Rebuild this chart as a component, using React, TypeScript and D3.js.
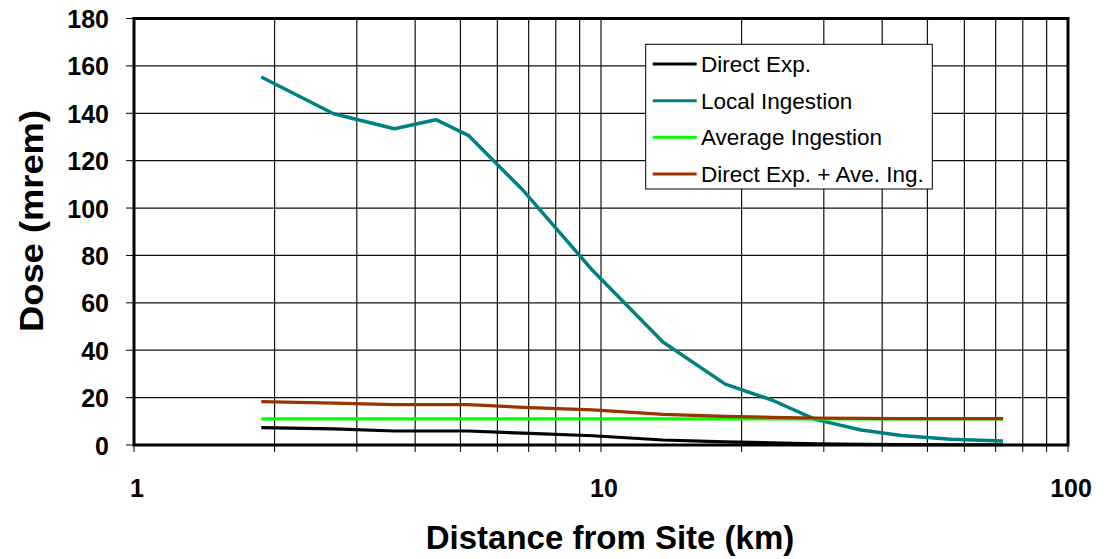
import React from "react";
import * as d3 from "d3";

const distances = [1.873, 2.676, 3.612, 4.43, 5.198, 6.81, 9.61, 13.57, 18.45, 23.23, 28.74, 36.07, 43.9, 56.1, 72.6];
const directExp = [7.3, 6.8, 5.9, 5.9, 5.9, 5.0, 3.9, 2.1, 1.3, 0.9, 0.5, 0.3, 0.2, 0.1, 0.1];
const localIngestion = [155.3, 139.8, 133.5, 137.3, 130.7, 107.5, 73.5, 43.5, 25.7, 19.0, 10.8, 6.3, 4.0, 2.4, 1.7];
const averageIngestion = [11.0, 11.0, 11.0, 11.0, 11.0, 11.0, 11.0, 11.0, 11.0, 11.0, 11.0, 11.0, 11.0, 11.0, 11.0];
const directPlusAve = [18.3, 17.7, 17.0, 17.0, 17.0, 15.9, 14.8, 12.9, 12.1, 11.7, 11.4, 11.2, 11.1, 11.1, 11.1];

const seriesNames = ["Direct Exp.", "Local Ingestion", "Average Ingestion", "Direct Exp. + Ave. Ing."];
const seriesColors = ["#000000", "#008080", "#00FF00", "#993300"];
const seriesValues = [directExp, localIngestion, averageIngestion, directPlusAve];

const yTicks = [0, 20, 40, 60, 80, 100, 120, 140, 160, 180];
const xLabelTicks = [1, 10, 100];

const W = 1108;
const H = 559;
const L = 134;
const R = 1068;
const T = 18.5;
const B = 445;
const FONT = "'Liberation Sans', Arial, Helvetica, sans-serif";

export default function App() {
  const x = d3.scaleLog().domain([1, 100]).range([L, R]);
  const y = d3.scaleLinear().domain([0, 180]).range([B, T]);

  const minorX: number[] = [];
  for (const dec of [1, 10]) {
    for (let k = 2; k <= 9; k++) minorX.push(dec * k);
  }
  const allXTicks = [1, ...minorX, 10, 100].sort((a, b) => a - b);

  const line = d3
    .line<[number, number]>()
    .x((d) => x(d[0]))
    .y((d) => y(d[1]));

  const legX = 645.7;
  const legY = 44.3;
  const legW = 286.6;
  const legH = 144.7;
  const rowYs = [64, 100.7, 137.3, 174];

  return (
    <svg
      width={W}
      height={H}
      style={{ position: "absolute", left: 0, top: 0, background: "#fff" }}
      fontFamily={FONT}
    >
      <rect x={0} y={0} width={W} height={H} fill="#fff" />
      {yTicks.map((t) => (
        <line key={"gy" + t} x1={L} x2={R} y1={y(t)} y2={y(t)} stroke="#111" strokeWidth={1.2} />
      ))}
      {minorX.concat([10]).map((t) => (
        <line key={"gx" + t} x1={x(t)} x2={x(t)} y1={T} y2={B} stroke="#111" strokeWidth={1.2} />
      ))}
      {yTicks.map((t) => (
        <line key={"ty" + t} x1={L - 8} x2={L} y1={y(t)} y2={y(t)} stroke="#000" strokeWidth={1} />
      ))}
      {allXTicks.map((t) => (
        <line key={"tx" + t} x1={x(t)} x2={x(t)} y1={B} y2={B + 7} stroke="#000" strokeWidth={1} />
      ))}
      {seriesValues.map((vals, i) => (
        <path
          key={"s" + i}
          d={line(distances.map((dd, j) => [dd, vals[j]] as [number, number])) || ""}
          fill="none"
          stroke={seriesColors[i]}
          strokeWidth={i === 1 ? 3.5 : 3.2}
          strokeLinejoin="round"
        />
      ))}
      <rect x={L} y={T} width={R - L} height={B - T} fill="none" stroke="#000" strokeWidth={3} />
      {yTicks.map((t) => (
        <text key={"ly" + t} x={109} y={y(t) + 9.5} textAnchor="end" fontSize={25} fontWeight="bold">
          {t}
        </text>
      ))}
      {xLabelTicks.map((t) => (
        <text key={"lx" + t} x={x(t) + 3} y={497} textAnchor="middle" fontSize={25} fontWeight="bold">
          {t}
        </text>
      ))}
      <text x={610} y={549} textAnchor="middle" fontSize={33} fontWeight="bold">
        Distance from Site (km)
      </text>
      <text
        transform={`translate(43,221) rotate(-90)`}
        textAnchor="middle"
        fontSize={33}
        fontWeight="bold"
        textLength={222}
        lengthAdjust="spacingAndGlyphs"
      >
        Dose (mrem)
      </text>
      <rect x={legX} y={legY} width={legW} height={legH} fill="#fff" stroke="#000" strokeWidth={1} />
      {seriesNames.map((n, i) => (
        <g key={"lg" + i}>
          <line x1={652.7} x2={696.7} y1={rowYs[i]} y2={rowYs[i]} stroke={seriesColors[i]} strokeWidth={3} />
          <text x={701} y={rowYs[i] + 8} fontSize={22.5}>
            {n}
          </text>
        </g>
      ))}
    </svg>
  );
}
